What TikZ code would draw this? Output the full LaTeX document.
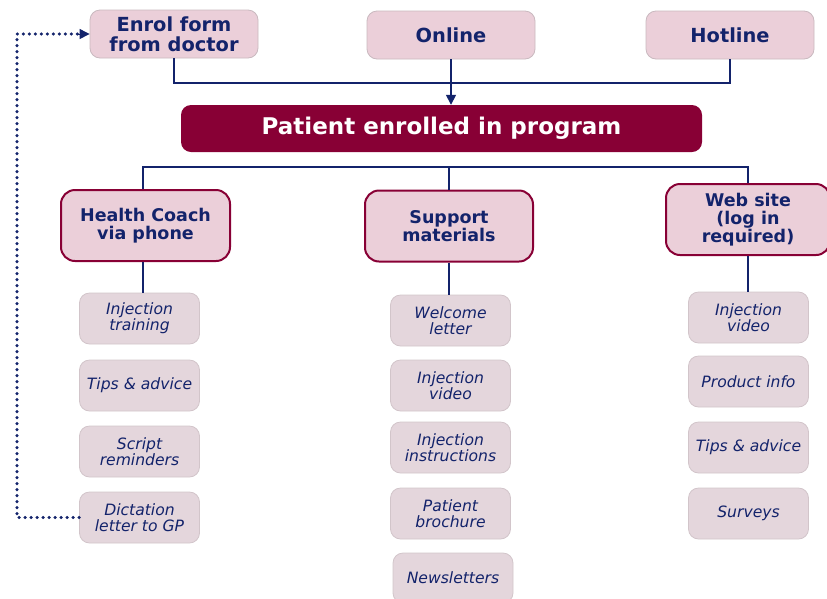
\documentclass[tikz,border=0pt]{standalone}
\usepackage{fontspec}
\setmainfont{DejaVu Sans}
\usetikzlibrary{arrows.meta}
\definecolor{navy}{HTML}{13236B}
\definecolor{maroon}{HTML}{880035}
\definecolor{pinkfill}{HTML}{EBCFD9}
\definecolor{pinkline}{HTML}{C9B9BF}
\definecolor{subfill}{HTML}{E4D6DC}
\definecolor{subline}{HTML}{D2C5CA}
\tikzset{
  srcbox/.style={draw=pinkline, line width=0.8pt, fill=pinkfill, rounded corners=10pt,
    inner sep=0pt, minimum width=168pt, minimum height=48pt, align=center,
    text=navy, font=\fontsize{19.4}{20}\selectfont\bfseries},
  hubbox/.style={fill=maroon, rounded corners=10pt, inner sep=0pt,
    minimum width=521pt, minimum height=47pt, text=white,
    font=\fontsize{23}{25}\selectfont\bfseries},
  chanbox/.style={draw=maroon, line width=2pt, fill=pinkfill, rounded corners=14pt,
    inner sep=0pt, minimum height=71pt, align=center, text=navy,
    font=\fontsize{17.5}{18}\selectfont\bfseries},
  itembox/.style={draw=subline, line width=0.8pt, fill=subfill, rounded corners=10pt,
    inner sep=0pt, minimum width=120pt, minimum height=51pt, align=center,
    text=navy, font=\fontsize{15.6}{16}\selectfont\itshape},
  link/.style={draw=navy, line width=1.6pt},
  backlink/.style={draw=navy, line width=3.4pt, line cap=round, dash pattern=on 0pt off 6pt},
}
\begin{document}
\begin{tikzpicture}[x=1pt, y=-1pt]
\useasboundingbox (0,0) rectangle (827,598);

% entry routes
\node[srcbox] (enrol) at (174,34) {Enrol form\\from doctor};
\node[srcbox] (online) at (451,35) {Online};
\node[srcbox] (hotline) at (730,35) {Hotline};

% central step
\node[hubbox] (hub) at (441.5,128.5) {Patient enrolled in program};

% support channels
\node[chanbox, minimum width=169pt] (coach) at (145.5,225.5) {Health Coach\\via phone};
\node[chanbox, minimum width=168pt] (support) at (449,226) {Support\\materials};
\node[chanbox, minimum width=164pt] (web) at (748,219.5) {Web site\\(log in\\required)};

% health coach items
\node[itembox] (c1) at (139.5,318.5) {Injection\\training};
\node[itembox] (c2) at (139.5,385.5) {Tips \& advice};
\node[itembox] (c3) at (139.5,451.5) {Script\\reminders};
\node[itembox] (c4) at (139.5,517.5) {Dictation\\letter to GP};

% support material items
\node[itembox] (s1) at (450.5,320.5) {Welcome\\letter};
\node[itembox] (s2) at (450.5,385.5) {Injection\\video};
\node[itembox] (s3) at (450.5,447.5) {Injection\\instructions};
\node[itembox] (s4) at (450.5,513.5) {Patient\\brochure};
\node[itembox, minimum height=50pt] (s5) at (453,578) {Newsletters};

% web site items
\node[itembox] (w1) at (748.5,317.5) {Injection\\video};
\node[itembox] (w2) at (748.5,381.5) {Product info};
\node[itembox] (w3) at (748.5,447.5) {Tips \& advice};
\node[itembox] (w4) at (748.5,513.5) {Surveys};

% routes into the programme
\coordinate (joinL) at (174,83);
\draw[link] (enrol.south) -- (joinL) -| (hotline.south);
\draw[link, -{Triangle[length=10pt, width=10pt]}] (online.south) -- (online.south |- hub.north);

% programme to channels
\coordinate (split) at (449,167);
\coordinate (coachx) at (143,0);
\draw[link] (split -| hub.south) -- (split);
\draw[link] (coach.north -| coachx) |- (split) -| (web.north);
\draw[link] (split) -- (support.north);

% channels to first items
\draw[link] (coach.south -| coachx) -- (c1.north -| coachx);
\draw[link] (support.south) -- (support.south |- s1.north);
\draw[link] (web.south) -- (web.south |- w1.north);

% feedback loop from GP letter to enrolment form
\coordinate (loopB) at (17,517.5);
\draw[backlink] (c4.west) -- (loopB) |- ([xshift=-12pt]enrol.west);
\draw[navy, -{Triangle[length=10pt, width=10pt]}, line width=1pt] ([xshift=-13pt]enrol.west) -- (enrol.west);
\end{tikzpicture}
\end{document}
